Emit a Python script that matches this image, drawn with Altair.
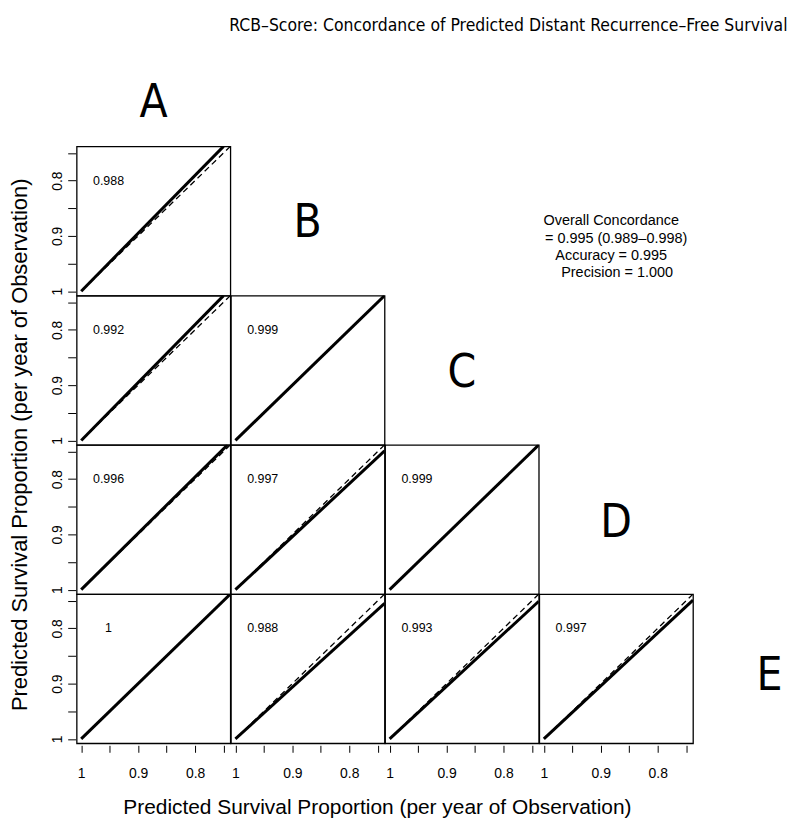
import altair as alt
import pandas as pd

# ---------------- text ----------------
TITLE = "RCB–Score: Concordance of Predicted Distant Recurrence–Free Survival"
AXIS_TITLE = "Predicted Survival Proportion (per year of Observation)"

# ---------------- panel data ----------------
panel_row = [1, 2, 2, 3, 3, 3, 4, 4, 4, 4]
panel_col = [1, 1, 2, 1, 2, 3, 1, 2, 3, 4]
concordance = ["0.988", "0.992", "0.999", "0.996", "0.997", "0.999", "1", "0.988", "0.993", "0.997"]
solid_x_start = 1.0
solid_y_start = 1.0
solid_x_end = [0.750, 0.750, 0.738, 0.743, 0.738, 0.738, 0.738, 0.738, 0.738, 0.738]
solid_y_end = [0.738, 0.738, 0.738, 0.738, 0.749, 0.738, 0.738, 0.755, 0.751, 0.749]
# reference (dashed) identity line
ref_x = [1.0, 0.738]
ref_y = [1.0, 0.738]
# concordance label position (data units)
label_x = 0.952
label_y = 0.80

tick_values = [1.0, 0.95, 0.9, 0.85, 0.8, 0.75]
label_values = [1.0, 0.9, 0.8]
axis_domain = [1.008, 0.738]

# ---------------- annotations (fractions of their cell) ----------------
letters = ["A", "B", "C", "D", "E"]
letter_x = [0.184, 0.5, 0.5, 0.5, 0.78]
letter_y = [0.687, 0.513, 0.52, 0.527, 0.547]

overall_lines = ["Overall Concordance", "= 0.995 (0.989–0.998)", "Accuracy = 0.995", "Precision = 1.000"]
overall_x = [0.468, 0.50, 0.468, 0.506]
overall_y = [0.50, 0.62, 0.733, 0.847]

title_pos = (0.639, 0.112)
ytitle_pos = (0.25, 0.5)
xtitle_pos = (0.471, 0.80)

SANS = "Liberation Sans, Arial, sans-serif"
NARROW = "DejaVu Sans Condensed, Liberation Sans Narrow, sans-serif"

PW, PH = 154.5, 150
FULL_W = 784
YT_W = 39
E_W = 98
HEAD_H = 134
FOOT_H = 32

HIDDEN = alt.ViewBackground(stroke="transparent")
FRAME = alt.ViewBackground(stroke="black", strokeWidth=1.3)


def fx():
    return alt.Scale(domain=[0, 1], nice=False, zero=False)


def fy():
    return alt.Scale(domain=[0, 1], nice=False, zero=False, reverse=True)


def text_chart(xs, ys, texts, w, h, size, font, angle=0):
    df = pd.DataFrame({"x": xs, "y": ys, "t": texts})
    return alt.Chart(df).mark_text(
        fontSize=size, font=font, align="center", baseline="middle",
        angle=angle, color="black"
    ).encode(
        x=alt.X("x:Q", scale=fx(), axis=None),
        y=alt.Y("y:Q", scale=fy(), axis=None),
        text="t:N",
    ).properties(width=w, height=h)


def cell(chart):
    return chart.properties(view=HIDDEN)


LABEL_EXPR = f"indexof({label_values}, datum.value) >= 0 ? datum.label : ''"


def panel(i):
    r, c = panel_row[i], panel_col[i]
    if r == 4:
        xaxis = alt.Axis(values=tick_values, format="~g", labelExpr=LABEL_EXPR, title=None,
                         domain=False, grid=False, tickSize=7, tickColor="black", tickWidth=1,
                         offset=2, labelPadding=14, labelFontSize=14, labelFont=SANS,
                         labelColor="black", labelAngle=0)
        xenc = alt.X("x:Q", scale=alt.Scale(domain=axis_domain, nice=False, zero=False), axis=xaxis)
    else:
        xenc = alt.X("x:Q", scale=alt.Scale(domain=axis_domain, nice=False, zero=False), axis=None)
    if c == 1:
        yaxis = alt.Axis(values=tick_values, format="~g", labelExpr=LABEL_EXPR, title=None,
                         domain=False, grid=False, tickSize=8, tickColor="black", tickWidth=1,
                         offset=1, labelPadding=3, labelFontSize=14, labelFont=SANS,
                         labelColor="black", labelAngle=270, labelAlign="center",
                         labelBaseline="bottom")
        yenc = alt.Y("y:Q", scale=alt.Scale(domain=axis_domain, nice=False, zero=False), axis=yaxis)
    else:
        yenc = alt.Y("y:Q", scale=alt.Scale(domain=axis_domain, nice=False, zero=False), axis=None)

    solid_df = pd.DataFrame({"x": [solid_x_start, solid_x_end[i]], "y": [solid_y_start, solid_y_end[i]]})
    ref_df = pd.DataFrame({"x": ref_x, "y": ref_y})
    lab_df = pd.DataFrame({"x": [label_x], "y": [label_y], "t": [concordance[i]]})

    dashed = alt.Chart(ref_df).mark_line(color="black", strokeWidth=1.3, strokeDash=[6, 4], clip=True).encode(
        x=xenc, y=yenc, order="x:Q")
    solid = alt.Chart(solid_df).mark_line(color="black", strokeWidth=3, clip=True).encode(
        x=xenc, y=yenc)
    lab = alt.Chart(lab_df).mark_text(fontSize=12.5, font=SANS, color="black", align="center",
                                       baseline="middle").encode(x=xenc, y=yenc, text="t:N")
    return alt.layer(dashed, solid, lab).properties(width=PW, height=PH, view=FRAME)


def letter_cell(k, w=PW):
    return cell(text_chart([letter_x[k]], [letter_y[k]], [letters[k]], w, PH, 46, NARROW))


def blank(w=PW):
    return cell(text_chart([0.5], [0.5], [""], w, PH, 12, SANS))


overall = cell(text_chart(overall_x, overall_y, overall_lines, PW, PH, 14.5, SANS))

cells = [
    panel(0), letter_cell(1), blank(), overall, blank(E_W),
    panel(1), panel(2), letter_cell(2), blank(), blank(E_W),
    panel(3), panel(4), panel(5), letter_cell(3), blank(E_W),
    panel(6), panel(7), panel(8), panel(9), letter_cell(4, E_W),
]
grid = alt.concat(*cells, columns=5, spacing=0, bounds="flush")

ytitle = cell(text_chart([ytitle_pos[0]], [ytitle_pos[1]], [AXIS_TITLE], YT_W, 4 * PH, 22, SANS, angle=270))
body = alt.hconcat(ytitle, grid, spacing=0)

header = cell(alt.layer(
    text_chart([title_pos[0]], [title_pos[1]], [TITLE], FULL_W, HEAD_H, 17.5, NARROW),
    text_chart([letter_x[0]], [letter_y[0]], [letters[0]], FULL_W, HEAD_H, 46, NARROW),
))
footer = cell(text_chart([xtitle_pos[0]], [xtitle_pos[1]], [AXIS_TITLE], FULL_W, FOOT_H, 21, SANS))

chart = alt.vconcat(header, body, footer, spacing=0).properties(
    padding=0, background="white"
)

chart.save("out.html", embed_options={"renderer": "svg", "actions": False})
